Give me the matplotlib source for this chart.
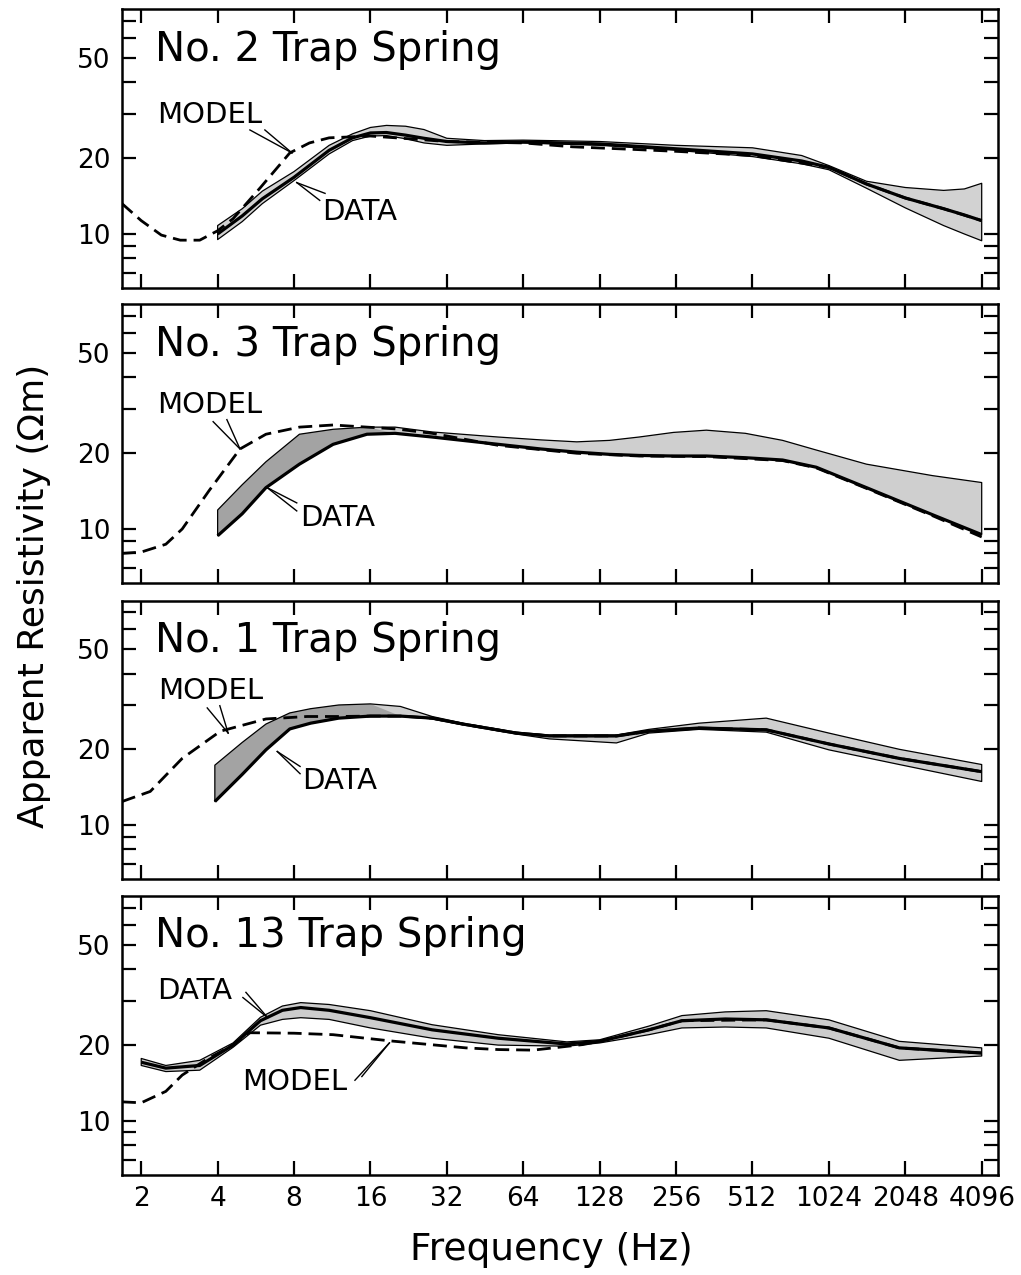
import matplotlib
matplotlib.use('Agg')
import matplotlib.pyplot as plt
from matplotlib.ticker import FixedLocator, NullFormatter, NullLocator
import numpy as np

# Frequency axis (Hz) and resistivity ticks (ohm-m)
freq_ticks = [2, 4, 8, 16, 32, 64, 128, 256, 512, 1024, 2048, 4096]
rho_major = [10, 20, 50]
rho_minor = [6, 7, 8, 9, 30, 40, 60, 70]

# ---- No. 2 Trap Spring ----
f_band_2 = [4, 5, 6, 8, 11, 13.6, 16, 18.5, 22, 26, 32, 45, 64, 128, 256, 512, 800, 1024, 1440, 2048, 2900, 3500, 4096]
line_2 = [10.0, 11.8, 13.8, 16.8, 21.5, 24.1, 25.2, 25.3, 24.7, 24.0, 23.3, 23.0, 23.2, 22.8, 21.8, 20.8, 19.5, 18.4, 15.8, 13.9, 12.6, 11.9, 11.3]
lower_2 = [9.5, 11.2, 13.2, 16.3, 20.8, 23.5, 24.5, 24.6, 23.9, 23.0, 22.5, 22.8, 23.0, 22.5, 21.5, 20.3, 19.0, 18.0, 15.2, 12.7, 10.8, 10.0, 9.4]
upper_2 = [10.8, 12.6, 14.8, 17.7, 22.5, 25.0, 26.5, 27.0, 26.8, 26.0, 24.0, 23.5, 23.6, 23.3, 22.5, 22.0, 20.5, 18.7, 16.2, 15.3, 14.9, 15.1, 15.9]
f_model_2 = [1.68, 2.0, 2.4, 2.85, 3.4, 4.0, 4.6, 5.9, 7.7, 9.2, 11, 16, 24, 32, 64, 100, 170, 256, 512, 1024, 1440, 2048, 2900, 4096]
model_2 = [13.2, 11.3, 9.9, 9.45, 9.45, 10.3, 11.5, 15.3, 21.0, 23.0, 24.1, 24.5, 23.8, 23.3, 23.0, 22.2, 21.7, 21.3, 20.5, 18.4, 15.8, 13.9, 12.6, 11.3]

# ---- No. 3 Trap Spring ----
f_band_3 = [4, 5, 6.2, 8.4, 11.4, 15.5, 20, 28, 51, 75, 104, 140, 183, 250, 337, 480, 673, 913, 1440, 2620, 4096]
lower_3 = [9.4, 11.5, 14.6, 18.1, 21.7, 23.8, 24.0, 23.2, 21.7, 20.8, 20.2, 19.8, 19.6, 19.5, 19.5, 19.2, 18.8, 17.6, 14.6, 11.4, 9.5]
upper_3 = [11.9, 15.0, 18.5, 23.8, 24.9, 25.4, 25.4, 24.3, 23.2, 22.6, 22.2, 22.5, 23.2, 24.2, 24.7, 24.0, 22.5, 20.6, 18.1, 16.3, 15.3]
line_3 = lower_3
f_model_3 = [1.68, 2.0, 2.5, 2.9, 3.7, 4.9, 6.2, 8.4, 11.4, 15.5, 20, 28, 51, 104, 183, 337, 673, 913, 1440, 2620, 4096]
model_3 = [8.0, 8.1, 8.7, 10.0, 14.2, 20.8, 23.8, 25.4, 25.9, 25.4, 25.0, 24.0, 21.5, 20.0, 19.5, 19.4, 18.7, 17.5, 14.5, 11.3, 9.3]

# ---- No. 1 Trap Spring ----
f_band_1 = [3.9, 5, 6.2, 7.7, 9.3, 12, 16, 21, 28, 37, 60, 81, 149, 200, 315, 580, 1024, 1940, 4096]
lower_1 = [12.4, 15.9, 19.9, 24.1, 25.4, 26.6, 27.1, 27.1, 26.4, 25.0, 23.0, 22.0, 21.2, 23.2, 24.0, 23.4, 19.9, 17.4, 14.9]
upper_1 = [17.3, 21.3, 25.2, 27.9, 29.0, 30.0, 30.3, 29.6, 27.0, 25.4, 23.4, 22.8, 22.8, 24.0, 25.4, 26.6, 23.2, 20.0, 17.4]
line_1 = [12.4, 15.9, 19.9, 24.1, 25.4, 26.6, 27.1, 27.1, 26.6, 25.2, 23.2, 22.6, 22.6, 23.6, 24.3, 23.9, 21.0, 18.4, 16.3]
f_model_1 = [1.68, 2.17, 2.9, 4.1, 6.2, 9.0, 12, 16, 21, 28, 37, 60, 81, 149, 200, 315, 580, 1024, 1940, 4096]
model_1 = [12.4, 13.6, 18.4, 23.6, 26.4, 27.0, 27.0, 27.1, 27.1, 26.6, 25.2, 23.2, 22.6, 22.6, 23.6, 24.3, 23.9, 21.0, 18.4, 16.3]

# ---- No. 13 Trap Spring ----
f_band_13 = [2.0, 2.5, 3.4, 4.6, 5.9, 7.2, 8.5, 11, 16, 28, 51, 95, 128, 200, 270, 400, 580, 1024, 1940, 4096]
line_13 = [17.1, 16.2, 16.6, 20.0, 25.0, 27.5, 28.2, 27.5, 25.7, 23.0, 21.3, 20.2, 20.7, 23.0, 25.0, 25.4, 25.2, 23.4, 19.5, 18.6]
lower_13 = [16.6, 15.7, 15.9, 19.6, 24.0, 25.3, 25.7, 25.3, 23.4, 21.3, 20.0, 19.8, 20.4, 22.0, 23.4, 23.6, 23.4, 21.3, 17.4, 18.1]
upper_13 = [17.7, 16.6, 17.4, 20.4, 25.8, 28.6, 29.5, 29.0, 27.4, 24.1, 22.0, 20.6, 21.0, 23.8, 26.2, 27.1, 27.4, 25.2, 20.7, 19.5]
f_model_13 = [1.68, 2.0, 2.5, 2.9, 3.6, 4.6, 5.3, 8, 11.4, 19, 38, 51, 70, 110, 128, 200, 270, 580, 1024, 1940, 4096]
model_13 = [11.9, 11.8, 13.1, 15.2, 17.5, 20.0, 22.4, 22.3, 22.0, 20.8, 19.5, 19.2, 19.1, 20.1, 20.7, 23.0, 25.0, 25.2, 23.4, 19.5, 18.6]

panels = [
    dict(title="No. 2 Trap Spring", f=f_band_2, lo=lower_2, hi=upper_2, line=line_2,
         fm=f_model_2, model=model_2, dark_until=0, light='#d2d2d2',
         labels=[("MODEL", (2.31, 29.8), (7.85, 21.0), [(5.36, 25.9), (6.14, 25.9)]),
                 ("DATA", (10.3, 12.25), (8.2, 16.0), [(10.1, 13.6), (10.6, 14.5)])]),
    dict(title="No. 3 Trap Spring", f=f_band_3, lo=lower_3, hi=upper_3, line=line_3,
         fm=f_model_3, model=model_3, dark_until=16, light='#cfcfcf',
         labels=[("MODEL", (2.31, 31.2), (4.9, 20.8), [(3.84, 26.7), (4.35, 27.2)]),
                 ("DATA", (8.45, 11.1), (6.27, 14.6), [(8.2, 11.8), (8.2, 12.7)])]),
    dict(title="No. 1 Trap Spring", f=f_band_1, lo=lower_1, hi=upper_1, line=line_1,
         fm=f_model_1, model=model_1, dark_until=16, light='#cfcfcf',
         labels=[("MODEL", (2.33, 34.2), (4.4, 23.2), [(3.64, 29.2), (4.08, 29.8)]),
                 ("DATA", (8.6, 14.9), (6.87, 19.6), [(8.45, 16.0), (8.45, 17.1)])]),
    dict(title="No. 13 Trap Spring", f=f_band_13, lo=lower_13, hi=upper_13, line=line_13,
         fm=f_model_13, model=model_13, dark_until=0, light='#cccccc',
         labels=[("DATA", (2.31, 32.9), (6.3, 25.7), [(5.03, 30.9), (5.17, 32.4)]),
                 ("MODEL", (5.0, 14.3), (19.0, 20.4), [(13.9, 14.5), (14.8, 15.0)])]),
]

fig = plt.figure(figsize=(10.21, 12.75), dpi=100)
left, width, height = 0.1195, 0.858, 0.2185
bottoms = [0.7741, 0.5427, 0.3105, 0.0785]

for i, (p, b) in enumerate(zip(panels, bottoms)):
    ax = fig.add_axes([left, b, width, height])
    ax.set_xscale('log', base=2)
    ax.set_yscale('log')
    ax.set_xlim(1.68, 4750)
    ax.set_ylim(6.1, 78)

    f = np.array(p['f'])
    lo = np.array(p['lo'])
    hi = np.array(p['hi'])
    ax.fill_between(f, lo, hi, facecolor=p['light'], edgecolor='none', zorder=1)
    if p['dark_until']:
        ax.fill_between(f, lo, hi, where=f <= p['dark_until'], interpolate=True,
                        facecolor='#a3a3a3', edgecolor='none', zorder=1.1)
    ax.fill_between(f, lo, hi, facecolor='none', edgecolor='black', linewidth=0.9, zorder=2)
    ax.plot(p['fm'], p['model'], color='black', lw=2.0, ls=(0, (5, 2.5)), zorder=3)
    ax.plot(f, p['line'], color='black', lw=2.3, zorder=4, solid_capstyle='butt')

    ax.text(0.038, 0.856, p['title'], transform=ax.transAxes, fontsize=29,
            ha='left', va='center')
    for txt, pos, tip, starts in p['labels']:
        ax.text(pos[0], pos[1], txt, fontsize=21, ha='left', va='center')
        for s in starts:
            ax.plot([s[0], tip[0]], [s[1], tip[1]], color='black', lw=1.0, zorder=5)

    ax.xaxis.set_major_locator(FixedLocator(freq_ticks))
    ax.xaxis.set_minor_locator(NullLocator())
    ax.yaxis.set_major_locator(FixedLocator(rho_major))
    ax.yaxis.set_minor_locator(FixedLocator(rho_minor))
    ax.yaxis.set_minor_formatter(NullFormatter())
    ax.set_yticklabels([str(v) for v in rho_major])
    if i == len(panels) - 1:
        ax.set_xticklabels([str(v) for v in freq_ticks])
    else:
        ax.set_xticklabels([])
    ax.tick_params(which='both', direction='in', top=True, right=True,
                   length=10, width=1.6, labelsize=19, pad=8)
    for s in ax.spines.values():
        s.set_linewidth(1.8)

fig.text(0.033, 0.533, "Apparent Resistivity (\u03a9m)", rotation=90,
         ha='center', va='center', fontsize=26)
fig.text(0.54, 0.02, "Frequency (Hz)", ha='center', va='center', fontsize=27)

fig.savefig("out.png", dpi=100)
